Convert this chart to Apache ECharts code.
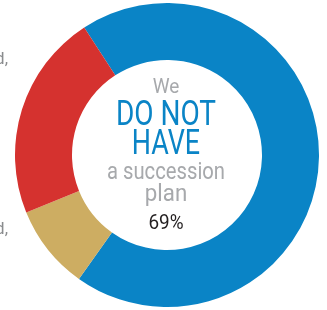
<!DOCTYPE html>
<html>
<head>
<meta charset="utf-8">
<script src="https://cdn.jsdelivr.net/npm/echarts@6/dist/echarts.min.js"></script>
<style>
  html, body { margin: 0; padding: 0; background: #fff; }
  #chart { width: 327px; height: 310px; }
</style>
</head>
<body>
<div id="chart"></div>
<script>
// share of respondents
const categories = ['Do not have a succession plan', 'Other', 'Have a succession plan']
const values = [69, 9, 22]
const colors = ['#0a84c6', '#cdad62', '#d5322f']
// centre caption
const captionLines = ['We', 'DO NOT', 'HAVE', 'a succession', 'plan']

const font = 'Roboto, "Noto Sans", sans-serif'
const chart = echarts.init(document.getElementById('chart'))

// centred caption line, squeezed horizontally to look like a condensed face
function caption (text, y, size, color, squeeze) {
  return {
    type: 'text',
    x: 166,
    y: y,
    scaleX: squeeze,
    style: {
      text: text,
      font: size + 'px ' + font,
      fill: color,
      textAlign: 'center',
      textVerticalAlign: 'middle'
    }
  }
}

const option = {
  animation: false,
  series: [
    {
      type: 'pie',
      center: [167, 155],
      radius: [95, 152],
      startAngle: 123,
      label: { show: false },
      labelLine: { show: false },
      itemStyle: { borderWidth: 0 },
      data: categories.map((name, i) => ({
        name: name,
        value: values[i],
        itemStyle: { color: colors[i] }
      }))
    }
  ],
  graphic: [
    caption(captionLines[0], 88, 20, '#a7a9ac', 0.95),
    caption(captionLines[1], 116, 35, '#0a84c6', 0.8),
    caption(captionLines[2], 145, 35, '#0a84c6', 0.77),
    caption(captionLines[3], 173, 23, '#a7a9ac', 0.88),
    caption(captionLines[4], 195, 23, '#a7a9ac', 0.97),
    caption(values[0] + '%', 224, 21, '#231f20', 0.9),
    // clipped label ends at the left edge
    {
      type: 'text', x: 8, y: 60,
      style: { text: 'nd,', font: '17px ' + font, fill: '#8a8c8e', textAlign: 'right', textVerticalAlign: 'middle' }
    },
    {
      type: 'text', x: 8, y: 230,
      style: { text: 'nd,', font: '17px ' + font, fill: '#8a8c8e', textAlign: 'right', textVerticalAlign: 'middle' }
    }
  ]
}

chart.setOption(option)
</script>
</body>
</html>
